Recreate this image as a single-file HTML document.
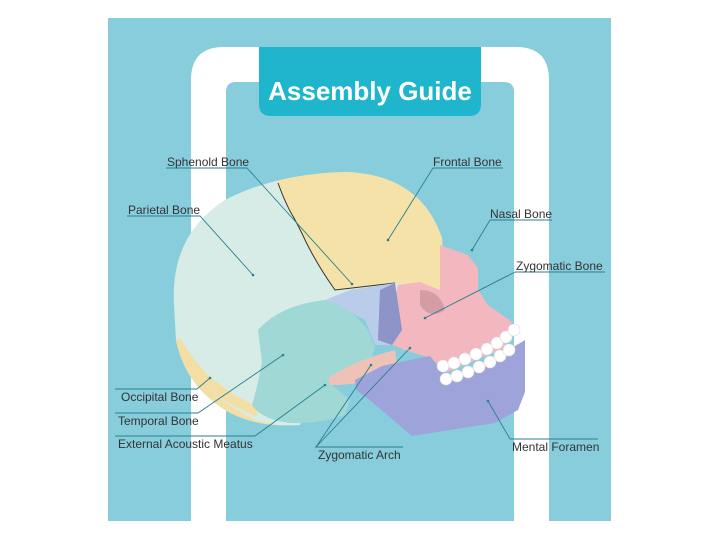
<!DOCTYPE html>
<html><head><meta charset="utf-8"><style>
html,body{margin:0;padding:0;background:#fff;width:719px;height:539px;overflow:hidden}
svg{display:block}
text{font-family:"Liberation Sans",sans-serif}
</style></head><body>
<svg width="719" height="539" viewBox="0 0 719 539" xmlns="http://www.w3.org/2000/svg">
<defs>
<clipPath id="cr"><path d="M174 305 Q170 235 225 200 Q275 174 345 172 Q420 174 442 238 L445 290 L340 300 L300 425 Q255 428 225 410 Q185 385 176 340 Z"/></clipPath>
</defs>
<rect x="108" y="18" width="503" height="503" fill="#87cddc"/>
<path d="M191 521 V80 Q191 47 224 47 H516 Q549 47 549 80 V521 H514 V92 Q514 82 504 82 H236 Q226 82 226 92 V521 Z" fill="#fff"/>
<path d="M259 47 H481 V104 Q481 116 469 116 H271 Q259 116 259 104 Z" fill="#1fb5cc"/>
<text x="370" y="100" text-anchor="middle" font-size="26" font-weight="bold" fill="#fff">Assembly Guide</text>

<!-- skull -->
<g clip-path="url(#cr)">
<rect x="160" y="160" width="300" height="280" fill="#d7ece6"/>
<path d="M274 170 Q282 200 292 215 Q300 232 305 240 Q318 265 335 290 L395 283 L450 290 L450 160 Z" fill="#f4e2a8"/>
<path d="M170 335 Q195 390 255 420 L300 430 L300 440 L160 440 Z" fill="#f3dea6"/>
<path d="M176 340 Q200 388 258 412" fill="none" stroke="#f3dea6" stroke-width="10"/>
</g>
<path d="M278 183 Q286 205 294 218 Q302 233 306 242 Q318 266 335 290 L395 283" fill="none" stroke="#333" stroke-width="1"/>
<path d="M440 245 L468 255 L478 268 L478 290 L488 305 L512 322 L505 348 L448 372 L430 358 L405 350 L392 345 L395 300 L398 285 L420 282 L440 290 Z" fill="#f2b7bf"/>
<path d="M420 290 Q440 290 445 310 Q430 320 420 305 Z" fill="#d49ca4"/>
<path d="M325 300 L350 290 L395 283 L400 330 L392 345 L375 345 L365 320 Z" fill="#b9ccea"/>
<path d="M380 290 L395 283 L402 330 L392 345 L378 340 Z" fill="#8e93c8"/>
<path d="M258 330 Q280 305 325 300 Q352 308 368 330 L375 348 L370 362 L345 372 L332 385 L350 400 L345 415 Q320 424 290 423 Q262 420 252 405 Q258 385 262 362 Z" fill="#9fd8d4"/>
<path d="M328 378 Q355 360 395 350 L398 372 Q370 385 330 385 Z" fill="#efc2b8"/>
<path d="M355 380 L382 366 L410 360 L430 356 L446 376 L472 370 L505 352 L525 340 L525 392 L518 410 L495 423 L450 430 L412 436 L372 402 L356 390 Z" fill="#9ea3da"/>
<g fill="#fff" stroke="#ddd" stroke-width="0.6">
<circle cx="443" cy="366" r="6"/><circle cx="454" cy="363" r="6"/><circle cx="465" cy="359" r="6"/><circle cx="476" cy="354" r="6"/><circle cx="487" cy="349" r="6"/><circle cx="497" cy="343" r="6"/><circle cx="506" cy="337" r="6"/><circle cx="514" cy="330" r="6"/>
<circle cx="446" cy="379" r="6"/><circle cx="457" cy="376" r="6"/><circle cx="468" cy="372" r="6"/><circle cx="479" cy="367" r="6"/><circle cx="490" cy="362" r="6"/><circle cx="500" cy="356" r="6"/><circle cx="509" cy="350" r="6"/>
</g>

<!-- leaders -->
<g stroke="#2a7f8f" stroke-width="0.9" fill="none">
<path d="M166 168 H247 L352 284"/>
<path d="M433 168 H503 M433 168 L388 240"/>
<path d="M127 216 H200 L253 275"/>
<path d="M490 220 H552 M490 220 L472 250"/>
<path d="M515 272 H605 M515 272 L425 318"/>
<path d="M115 389 H197 L210 378"/>
<path d="M115 413 H198 L283 355"/>
<path d="M115 436 H255 L325 385"/>
<path d="M315 447 H403 M316 447 L371 365 M316 447 L410 348"/>
<path d="M510 439 H598 M510 439 L488 401"/>
</g>
<g fill="#2a7f8f">
<circle cx="352" cy="284" r="1.3"/><circle cx="388" cy="240" r="1.3"/><circle cx="253" cy="275" r="1.3"/><circle cx="472" cy="250" r="1.3"/><circle cx="425" cy="318" r="1.3"/><circle cx="210" cy="378" r="1.3"/><circle cx="283" cy="355" r="1.3"/><circle cx="325" cy="385" r="1.3"/><circle cx="371" cy="365" r="1.3"/><circle cx="410" cy="348" r="1.3"/><circle cx="488" cy="401" r="1.3"/>
</g>
<g font-size="12" fill="#333">
<text x="167" y="166">Sphenold Bone</text>
<text x="433" y="166">Frontal Bone</text>
<text x="128" y="214">Parietal Bone</text>
<text x="490" y="218">Nasal Bone</text>
<text x="516" y="270">Zygomatic Bone</text>
<text x="121" y="401">Occipital Bone</text>
<text x="118" y="425">Temporal Bone</text>
<text x="118" y="448">External Acoustic Meatus</text>
<text x="318" y="459">Zygomatic Arch</text>
<text x="512" y="451">Mental Foramen</text>
</g>
</svg>
</body></html>
